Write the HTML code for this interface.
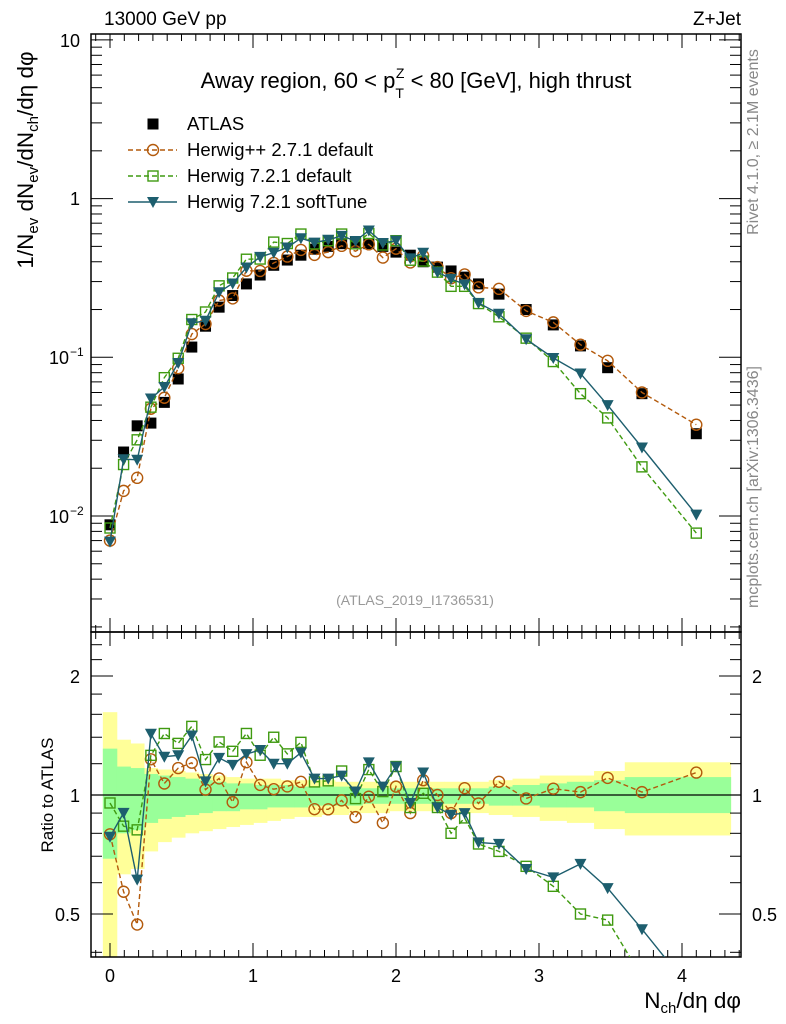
<!DOCTYPE html>
<html><head><meta charset="utf-8"><style>
html,body{margin:0;padding:0;background:#fff;}
svg{display:block;font-family:"Liberation Sans",sans-serif;}
</style></head><body>
<svg id="chart" width="786" height="1024" viewBox="0 0 786 1024" xmlns="http://www.w3.org/2000/svg"></svg>
<script>
const xs=[0,0.095,0.19,0.286,0.38,0.477,0.572,0.668,0.763,0.858,0.954,1.05,1.145,1.24,1.335,1.43,1.526,1.62,1.717,1.81,1.908,2.0,2.1,2.19,2.29,2.385,2.48,2.577,2.72,2.91,3.1,3.29,3.48,3.72,4.1];
const atlas=[0.0088,0.0253,0.037,0.0385,0.052,0.073,0.116,0.157,0.207,0.245,0.29,0.33,0.38,0.41,0.44,0.48,0.50,0.52,0.53,0.52,0.50,0.46,0.44,0.40,0.37,0.35,0.32,0.29,0.25,0.20,0.16,0.118,0.086,0.059,0.033];
const herwigpp=[0.0070,0.0144,0.0174,0.0474,0.0556,0.0854,0.140,0.162,0.228,0.235,0.351,0.350,0.393,0.431,0.475,0.442,0.46,0.504,0.466,0.515,0.425,0.483,0.396,0.436,0.37,0.315,0.333,0.276,0.27,0.196,0.166,0.120,0.095,0.060,0.0376];
const herwig7=[0.0084,0.0211,0.0302,0.0485,0.0744,0.0986,0.173,0.193,0.282,0.316,0.415,0.416,0.532,0.521,0.598,0.518,0.543,0.598,0.519,0.603,0.51,0.543,0.409,0.404,0.344,0.28,0.28,0.218,0.18,0.132,0.094,0.059,0.0415,0.0204,0.0078];
const softTune=[0.0069,0.0228,0.0226,0.055,0.065,0.092,0.164,0.170,0.257,0.292,0.368,0.429,0.456,0.492,0.563,0.528,0.55,0.582,0.541,0.629,0.525,0.543,0.42,0.456,0.344,0.312,0.288,0.22,0.188,0.13,0.099,0.079,0.050,0.027,0.0102];
const yellowHi=[1.62,1.38,1.35,1.17,1.16,1.15,1.14,1.13,1.12,1.11,1.10,1.10,1.10,1.09,1.09,1.09,1.09,1.08,1.08,1.08,1.08,1.08,1.08,1.08,1.08,1.08,1.08,1.08,1.09,1.10,1.12,1.12,1.15,1.21,1.21];
const yellowLo=[0.3,0.63,0.65,0.72,0.76,0.78,0.8,0.81,0.82,0.83,0.84,0.85,0.86,0.87,0.88,0.88,0.89,0.89,0.9,0.9,0.9,0.91,0.91,0.91,0.91,0.91,0.9,0.9,0.89,0.88,0.86,0.85,0.82,0.79,0.79];
const greenHi=[1.31,1.18,1.17,1.13,1.12,1.11,1.10,1.09,1.08,1.07,1.07,1.06,1.06,1.06,1.05,1.05,1.05,1.05,1.04,1.04,1.04,1.04,1.04,1.04,1.04,1.04,1.04,1.04,1.05,1.06,1.07,1.08,1.09,1.11,1.11];
const greenLo=[0.69,0.80,0.815,0.85,0.87,0.88,0.89,0.9,0.91,0.91,0.92,0.92,0.93,0.93,0.93,0.94,0.94,0.94,0.94,0.95,0.95,0.95,0.95,0.95,0.95,0.95,0.95,0.95,0.94,0.94,0.93,0.93,0.91,0.9,0.9];
const xTicks=[0,1,2,3,4];
const ratioTicks=[0.5,1,2];

const NS="http://www.w3.org/2000/svg";
const svg=document.getElementById('chart');
const L=91,R=741,T1=34,B1=632,T2=632,B2=957;
const X=v=>110+143*v;
const Y1=v=>516-158.7*(Math.log10(v)+2);
const Y2=v=>795-119*Math.log2(v);
const C_OR="#b35a0c",C_GR="#3f9a10",C_BL="#1d5e6e";
function el(tag,attrs,parent){const e=document.createElementNS(NS,tag);for(const k in attrs)e.setAttribute(k,attrs[k]);(parent||svg).appendChild(e);return e;}
function txt(s,x,y,size,anchor,fill,parent){const t=el('text',{x:x,y:y,'font-size':size,'text-anchor':anchor||'start',fill:fill||'#000'},parent);t.textContent=s;return t;}

const defs=el('defs',{});
const cp1=el('clipPath',{id:'c1'},defs);el('rect',{x:L,y:T1,width:R-L,height:B1-T1},cp1);
const cp2=el('clipPath',{id:'c2'},defs);el('rect',{x:L,y:T2,width:R-L,height:B2-T2},cp2);

const bands=el('g',{'clip-path':'url(#c2)'});


function edges(i){const lo=i===0?-0.05:(xs[i-1]+xs[i])/2;const hi=i===xs.length-1?4.34:(xs[i]+xs[i+1])/2;return [lo,hi];}
for(let i=0;i<xs.length;i++){const [a,b]=edges(i);
 const r=el('rect',{x:X(a),y:Y2(yellowHi[i]),width:X(b)-X(a)+0.5,height:Y2(yellowLo[i])-Y2(yellowHi[i]),fill:'#ffff99'},bands);
 
 }
for(let i=0;i<xs.length;i++){const [a,b]=edges(i);
 const r=el('rect',{x:X(a),y:Y2(greenHi[i]),width:X(b)-X(a)+0.5,height:Y2(greenLo[i])-Y2(greenHi[i]),fill:'#99ff99'},bands);
 
 }
el('line',{x1:L,x2:R,y1:Y2(1),y2:Y2(1),stroke:'#000','stroke-width':1.2});

const f1=el('rect',{x:L,y:T1,width:R-L,height:B1-T1,fill:'none',stroke:'#000','stroke-width':1.5});

const f2=el('rect',{x:L,y:T2,width:R-L,height:B2-T2,fill:'none',stroke:'#000','stroke-width':1.5});


const tk=el('g',{stroke:'#000','stroke-width':1});

for(let v=-0.1;v<=4.41;v+=0.1){const vv=Math.round(v*10)/10;const x=X(vv);if(x<L||x>R)continue;const maj=Math.abs(vv-Math.round(vv))<1e-6;const len=maj?14:7;
 [[B1,-1],[T1,1],[B2,-1],[T2,1]].forEach(([y,d])=>el('line',{x1:x,x2:x,y1:y,y2:y+d*len},tk));}
for(let e=-3;e<=1;e++)for(let m=1;m<=9;m++){const v=m*Math.pow(10,e);const y=Y1(v);if(y<T1||y>B1)continue;const len=m===1?22:11;
 el('line',{x1:L,x2:L+len,y1:y,y2:y},tk);el('line',{x1:R,x2:R-len,y1:y,y2:y},tk);}
[0.4,0.5,0.6,0.7,0.8,0.9,1,1.2,1.4,1.6,1.8,2,2.2,2.4].forEach(v=>{const y=Y2(v);const maj=(v===0.5||v===1||v===2);const len=maj?22:11;
 el('line',{x1:L,x2:L+len,y1:y,y2:y},tk);el('line',{x1:R,x2:R-len,y1:y,y2:y},tk);});

const tl=el('g',{});
xTicks.forEach(v=>txt(String(v),X(v),982,18,'middle','#000',tl));
txt('10',80,47,18,'end','#000',tl);txt('1',80,205,18,'end','#000',tl);
[[-1,364],[-2,523]].forEach(([e,y])=>{txt('10',69,y,18,'end','#000',tl);const s=el('text',{x:70,y:y-8,'font-size':12},tl);s.textContent='\u2212'+(-e);});
ratioTicks.forEach(v=>{txt(String(v),80,Y2(v)+7,18,'end','#000',tl);txt(String(v),752,Y2(v)+7,18,'start','#000',tl);});

function series(vals,ratio,color,dash,marker,name){
 const g=el('g',{});
 [[Y1,'c1',vals],[Y2,'c2',vals.map((v,i)=>v/atlas[i])]].forEach(([Yf,clip,arr],pi)=>{
  if(pi===1&&!ratio)return;
  const sub=el('g',{'clip-path':'url(#'+clip+')'},g);
  if(color){const pts=arr.map((v,i)=>X(xs[i]).toFixed(1)+','+Yf(v).toFixed(1)).join(' ');
   const pl=el('polyline',{points:pts,fill:'none',stroke:color,'stroke-width':1.4,'stroke-dasharray':dash||'none'},sub);
   }
  arr.forEach((v,i)=>{const m=marker(X(xs[i]),Yf(v),sub);});
 });
}
const sq=(x,y,p)=>el('rect',{x:x-5.5,y:y-5.5,width:11,height:11,fill:'#000'},p);
const circ=(x,y,p)=>el('circle',{cx:x,cy:y,r:5.5,fill:'none',stroke:C_OR,'stroke-width':1.4},p);
const osq=(x,y,p)=>el('rect',{x:x-5,y:y-5,width:10,height:10,fill:'none',stroke:C_GR,'stroke-width':1.4},p);
const tri=(x,y,p)=>el('polygon',{points:`${x-6},${y-5} ${x+6},${y-5} ${x},${y+6}`,fill:C_BL},p);
series(atlas,false,null,null,sq,'atlas-data');
series(herwigpp,true,C_OR,'5,3',circ,'herwigpp-271-default');
series(herwig7,true,C_GR,'5,3',osq,'herwig-721-default');
series(softTune,true,C_BL,null,tri,'herwig-721-softtune');

const t1=txt('13000 GeV pp',104,25,19);
const t2=txt('Z+Jet',741,25,19,'end');
const tt=el('text',{x:416,y:88,'font-size':22,'text-anchor':'middle'});

tt.innerHTML='Away region, 60 &lt; p<tspan dy="10" font-size="14">T</tspan><tspan dy="-20" dx="-8" font-size="14">Z</tspan><tspan dy="10"> &lt; 80 [GeV], high thrust</tspan>';
const lg=el('g',{});
[['ATLAS',null,null,sq,124],['Herwig++ 2.7.1 default',C_OR,'5,3',circ,150],['Herwig 7.2.1 default',C_GR,'5,3',osq,176],['Herwig 7.2.1 softTune',C_BL,null,tri,202]].forEach(([s,c,d,m,y])=>{
 const e=el('g',{},lg);
 if(c)el('line',{x1:128,x2:177,y1:y,y2:y,stroke:c,'stroke-width':1.4,'stroke-dasharray':d||'none'},e);
 m(153,y,e);txt(s,187,y+6,18.5,'start','#000',e);});
const id=txt('(ATLAS_2019_I1736531)',415,605,14,'middle','#999');
const rv=el('text',{x:758,y:142,'font-size':16,'text-anchor':'middle',fill:'#888',transform:'rotate(-90 758 142)'});rv.textContent='Rivet 4.1.0, \u2265 2.1M events';

const mc=el('text',{x:758,y:487,'font-size':16,'text-anchor':'middle',fill:'#888',transform:'rotate(-90 758 487)'});mc.textContent='mcplots.cern.ch [arXiv:1306.3436]';

const yt=el('text',{x:33,y:160,'font-size':22.5,'text-anchor':'middle',transform:'rotate(-90 33 160)'});
yt.innerHTML='1/N<tspan dy="5" font-size="15">ev</tspan><tspan dy="-5"> dN</tspan><tspan dy="5" font-size="15">ev</tspan><tspan dy="-5">/dN</tspan><tspan dy="5" font-size="15">ch</tspan><tspan dy="-5">/d\u03b7 d\u03c6</tspan>';

const rt=el('text',{x:53,y:795,'font-size':17,'text-anchor':'middle',transform:'rotate(-90 53 795)'});rt.textContent='Ratio to ATLAS';

const xt=el('text',{x:741,y:1008,'font-size':22.5,'text-anchor':'end'});
xt.innerHTML='N<tspan dy="5" font-size="15">ch</tspan><tspan dy="-5">/d\u03b7 d\u03c6</tspan>';

</script>
</body></html>
